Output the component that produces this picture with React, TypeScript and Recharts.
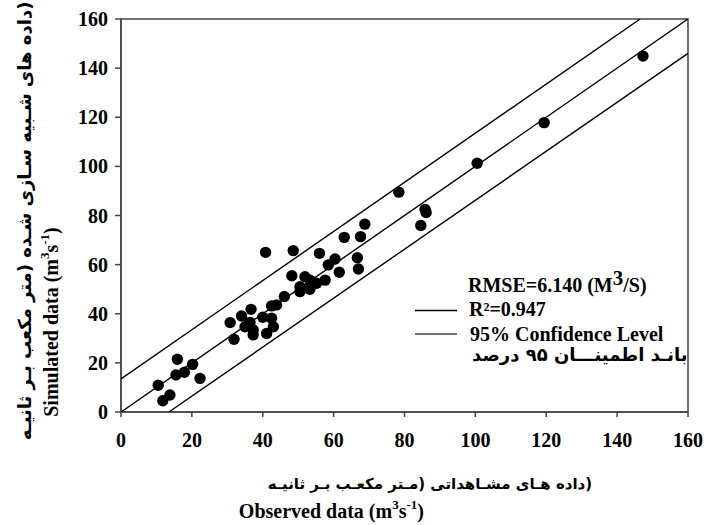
import React from 'react';
import { ScatterChart, Scatter, XAxis, YAxis, ReferenceArea } from 'recharts';

const observed = [10.5, 11.8, 13.8, 15.5, 15.9, 17.9, 20.2, 22.3, 30.8, 31.9, 34.0, 35.0, 36.4, 36.7, 37.3, 37.3, 40.0, 40.8, 41.1, 42.5, 43.0, 42.5, 43.9, 46.1, 48.2, 48.6, 50.5, 50.5, 51.9, 53.3, 53.3, 55.2, 56.0, 57.6, 58.5, 60.4, 61.6, 63.0, 66.7, 67.0, 67.6, 68.8, 78.4, 84.6, 85.8, 86.1, 100.5, 119.4, 147.3];
const simulated = [10.9, 4.6, 6.9, 15.1, 21.5, 16.2, 19.4, 13.7, 36.4, 29.6, 39.1, 34.7, 36.5, 41.8, 33.4, 31.4, 38.6, 65.0, 32.0, 38.2, 34.7, 43.2, 43.6, 47.0, 55.5, 65.7, 51.0, 49.0, 55.1, 53.7, 50.0, 52.4, 64.6, 53.7, 59.9, 62.3, 56.9, 71.1, 62.8, 58.2, 71.4, 76.5, 89.5, 75.9, 82.5, 81.2, 101.3, 117.8, 144.9];

const fitLineX = [0, 160];
const fitLineY = [0, 160];
const upperBandX = [0, 146.5];
const upperBandY = [13.5, 160];
const lowerBandX = [13.5, 160];
const lowerBandY = [0, 146];

const xTicks = [0, 20, 40, 60, 80, 100, 120, 140, 160];
const yTicks = [0, 20, 40, 60, 80, 100, 120, 140, 160];

const yTitleFa = '(داده های شـبیه سـازی شـده (متر مکعب  بـر ثانیـه';
const xTitleFa = '(داده هـای مشـاهداتی (مـتر مکعـب  بـر ثانیـه';
const legendFa = 'بانـد اطمینـــان ۹۵ درصد';

const points = observed.map((x, i) => ({ x, y: simulated[i] }));
const toPts = (xs: number[], ys: number[]) => xs.map((x, i) => ({ x, y: ys[i] }));

const SERIF = '"Liberation Serif", "Times New Roman", serif';
const ARABIC = '"DejaVu Sans", sans-serif';

const Dot = (props: any) => {
  const { cx, cy } = props;
  if (cx == null || cy == null) return <g />;
  return <circle cx={cx} cy={cy} r={5.7} fill="#000" />;
};
const NoShape = () => <g />;

const tickStyle = { fill: '#000', fontSize: 20, fontWeight: 'bold', fontFamily: SERIF };

export default function App() {
  return (
    <div style={{ position: 'absolute', left: 0, top: 0, width: 709, height: 525, background: '#fff' }}>
      <ScatterChart width={709} height={525} margin={{ top: 19, right: 21, bottom: 83, left: 61 }}>
        <XAxis
          type="number"
          dataKey="x"
          domain={[0, 160]}
          ticks={xTicks}
          allowDataOverflow
          height={30}
          tickSize={5}
          tickMargin={16}
          stroke="#444"
          strokeWidth={1.5}
          tick={tickStyle}
        />
        <YAxis
          type="number"
          dataKey="y"
          domain={[0, 160]}
          ticks={yTicks}
          allowDataOverflow
          width={60}
          tickSize={6}
          tickMargin={7}
          stroke="#444"
          strokeWidth={1.5}
          tick={tickStyle}
        />
        <ReferenceArea x1={0} x2={160} y1={0} y2={160} fill="none" stroke="#444" strokeWidth={1.5} fillOpacity={0} ifOverflow="visible" />
        <Scatter data={toPts(upperBandX, upperBandY)} line={{ stroke: '#000', strokeWidth: 1.4 }} lineType="joint" shape={NoShape} isAnimationActive={false} />
        <Scatter data={toPts(fitLineX, fitLineY)} line={{ stroke: '#000', strokeWidth: 1.4 }} lineType="joint" shape={NoShape} isAnimationActive={false} />
        <Scatter data={toPts(lowerBandX, lowerBandY)} line={{ stroke: '#000', strokeWidth: 1.4 }} lineType="joint" shape={NoShape} isAnimationActive={false} />
        <Scatter data={points} shape={Dot} isAnimationActive={false} />
      </ScatterChart>
      <svg width={709} height={525} style={{ position: 'absolute', left: 0, top: 0, pointerEvents: 'none' }}>
        {/* Y axis titles */}
        <text
          transform="translate(31,221) rotate(-90)"
          textAnchor="middle"
          direction="rtl"
          fontFamily={ARABIC}
          fontWeight="bold"
          fontSize={18}
          fill="#000"
        >
          {yTitleFa}
        </text>
        <text
          transform="translate(58,322) rotate(-90)"
          textAnchor="middle"
          fontFamily={SERIF}
          fontWeight="bold"
          fontSize={20}
          fill="#000"
        >
          Simulated data (m<tspan fontSize={13} dy={-9}>3</tspan>
          <tspan dy={9}>s</tspan>
          <tspan fontSize={13} dy={-9}>-1</tspan>
          <tspan dy={9}>)</tspan>
        </text>
        {/* X axis titles */}
        <text x={430} y={489} textAnchor="middle" direction="rtl" fontFamily={ARABIC} fontWeight="bold" fontSize={15} fill="#000">
          {xTitleFa}
        </text>
        <text x={424} y={518} textAnchor="end" fontFamily={SERIF} fontWeight="bold" fontSize={20} fill="#000">
          Observed data (m<tspan fontSize={13} dy={-9}>3</tspan>
          <tspan dy={9}>s</tspan>
          <tspan fontSize={13} dy={-9}>-1</tspan>
          <tspan dy={9}>)</tspan>
        </text>
        {/* Legend */}
        <text x={468} y={292} fontFamily={SERIF} fontWeight="bold" fontSize={20} fill="#000">
          RMSE=6.140 (M<tspan fontSize={21} dy={-7}>3</tspan>
          <tspan dy={7}>/S)</tspan>
        </text>
        <line x1={415} x2={457} y1={310.5} y2={310.5} stroke="#000" strokeWidth={1.3} />
        <text x={469} y={316} fontFamily={SERIF} fontWeight="bold" fontSize={20} fill="#000">R²=0.947</text>
        <line x1={415} x2={457} y1={334} y2={334} stroke="#444" strokeWidth={1.5} />
        <text x={470} y={341} fontFamily={SERIF} fontWeight="bold" fontSize={20} fill="#000">95% Confidence Level</text>
        <text x={472} y={361} fontFamily={ARABIC} fontWeight="bold" fontSize={18} fill="#000">
          {legendFa}
        </text>
      </svg>
    </div>
  );
}
